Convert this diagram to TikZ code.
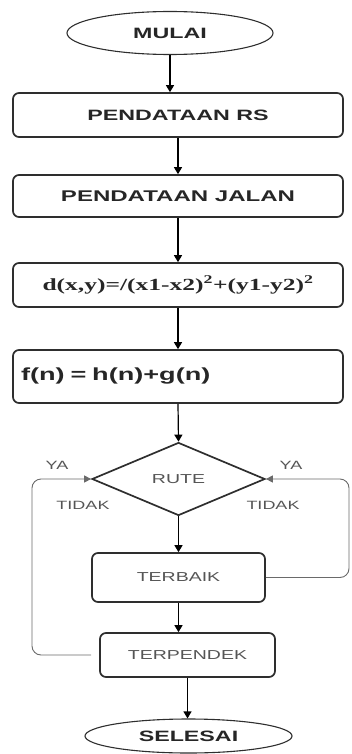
\documentclass[tikz,border=0pt]{standalone}
\usepackage{fontspec}
\usetikzlibrary{shapes.geometric,arrows.meta}
\newfontfamily\bsans[FakeStretch=1.55]{Liberation Sans}
\newfontfamily\rsans[FakeStretch=1.5]{Liberation Sans}
\newfontfamily\bserif[FakeStretch=1.5]{Liberation Serif}
\definecolor{boxline}{HTML}{2E2E2E}
\definecolor{lbl}{HTML}{555555}
\definecolor{loopc}{HTML}{6A6A6A}
\begin{document}
\begin{tikzpicture}[x=1pt,y=-1pt,
  procbox/.style={draw=boxline, line width=1.7pt, rounded corners=6pt, inner sep=0pt},
  term/.style={draw=boxline, line width=1.1pt, ellipse, inner sep=0pt},
  bigtxt/.style={font=\bsans\bfseries\fontsize{15}{17}\selectfont, text=black!85},
  smalltxt/.style={font=\rsans\fontsize{13}{15}\selectfont, text=lbl},
  lbltxt/.style={font=\rsans\fontsize{12}{14}\selectfont, text=lbl, inner sep=0pt},
  flow/.style={draw=black, line width=1.2pt, -{Triangle[length=7pt,width=8pt]}},
  loopline/.style={draw=loopc, line width=0.9pt, rounded corners=9pt, -{Triangle[length=7pt,width=7pt]}}]
\useasboundingbox (0,0) rectangle (351,754);

\node[term, bigtxt, minimum width=206pt, minimum height=43pt] (mulai) at (170,33) {MULAI};
\node[procbox, bigtxt, minimum width=330pt, minimum height=44pt] (rs) at (178,115) {PENDATAAN RS};
\node[procbox, font=\bsans\bfseries\fontsize{15.5}{17}\selectfont, text=black!85, minimum width=330pt, minimum height=42pt] (jalan) at (178,196) {PENDATAAN JALAN};
\node[procbox, font=\bserif\bfseries\fontsize{17}{20}\selectfont, text=black!85, minimum width=330pt, minimum height=44pt] (dist) at (178,285) {d(x,y)=/(x1-x2)\textsuperscript{2}+(y1-y2)\textsuperscript{2}};
\node[procbox, font=\bsans\bfseries\fontsize{17.5}{20}\selectfont, text=black!85, minimum height=53pt, text width=314pt, inner xsep=8pt, align=left] (fn) at (178,376.5) {f(n) = h(n)+g(n)};
\node[draw=boxline, line width=1.7pt, diamond, inner sep=0pt, minimum width=173pt, minimum height=73pt, smalltxt] (rute) at (178.5,479) {RUTE};
\node[procbox, smalltxt, minimum width=173pt, minimum height=49pt] (terbaik) at (178.5,577.5) {TERBAIK};
\node[procbox, smalltxt, minimum width=175pt, minimum height=44pt] (terpendek) at (187.5,655) {TERPENDEK};
\node[term, bigtxt, minimum width=207pt, minimum height=34pt] (selesai) at (188.5,736) {SELESAI};

\node[lbltxt] (yal) at (57,465) {YA};
\node[lbltxt] (yar) at (291,465) {YA};
\node[lbltxt] (tidakl) at (83,505) {TIDAK};
\node[lbltxt] (tidakr) at (273,505) {TIDAK};

\draw[flow] (mulai.south) -- (mulai.south |- rs.north);
\draw[flow] (rs.south) -- (jalan.north);
\draw[flow] (jalan.south) -- (dist.north);
\draw[flow] (dist.south) -- (fn.north);
\draw[flow] (fn.south) -- (rute.north);
\draw[flow] (rute.south) -- (terbaik.north);
\draw[flow] (terbaik.south) -- (terbaik.south |- terpendek.north);
\draw[flow] (terpendek.south) -- (terpendek.south |- selesai.north);

\coordinate (lb) at (32,655);
\coordinate (lt) at (32,479);
\coordinate (rb) at (349,577.5);
\coordinate (rt) at (349,479);
\draw[loopline] ([xshift=-8pt]terpendek.west) -- (lb) -- (lt) -- (rute.west);
\draw[loopline] (terbaik.east) -- (rb) -- (rt) -- (rute.east);
\end{tikzpicture}
\end{document}
